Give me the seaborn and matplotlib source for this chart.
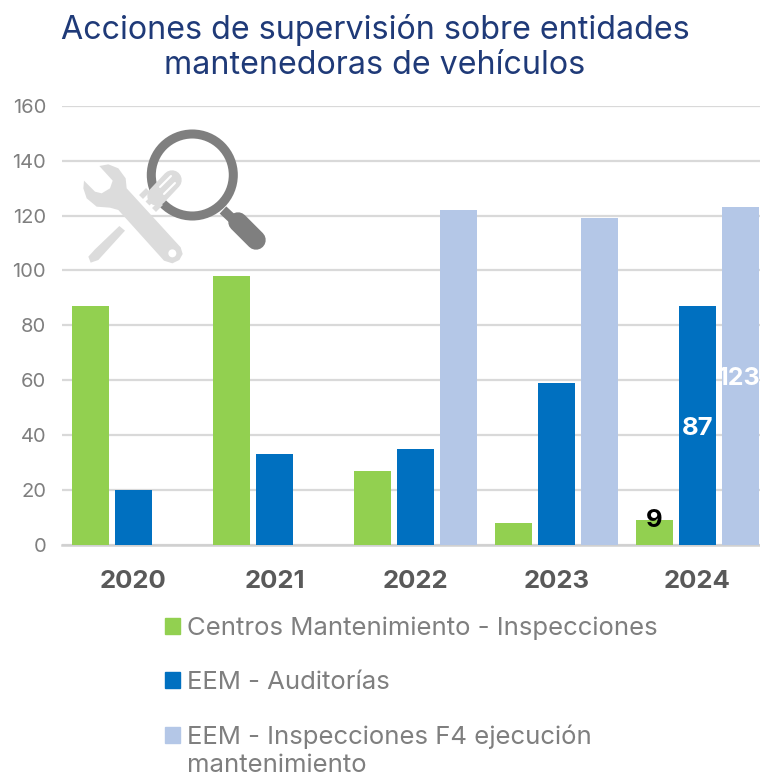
import matplotlib
matplotlib.use("Agg")
import matplotlib.pyplot as plt
import seaborn as sns
import pandas as pd
import numpy as np
from matplotlib.patches import Circle, Polygon, Rectangle
from matplotlib.lines import Line2D

years = ["2020", "2021", "2022", "2023", "2024"]
centros = [87, 98, 27, 8, 9]
auditorias = [20, 33, 35, 59, 87]
inspecciones = [np.nan, np.nan, 122, 119, 123]
series_names = ["Centros Mantenimiento - Inspecciones", "EEM - Auditorías",
                "EEM - Inspecciones F4 ejecución\nmantenimiento"]
colors = ["#92d050", "#0070c0", "#b4c7e7"]
title = "Acciones de supervisión sobre entidades\nmantenedoras de vehículos"

sns.set_theme(style="white")
plt.rcParams["font.family"] = ["Inter", "DejaVu Sans"]

W, H = 760, 776
fig = plt.figure(figsize=(W / 100, H / 100), dpi=100)
top_px, bot_px, left_px = 106, 544.5, 62
ax = fig.add_axes([left_px / W, 1 - bot_px / H, (W - left_px) / W, (bot_px - top_px) / H])

df = pd.DataFrame({"year": years * 3,
                   "value": centros + auditorias + inspecciones,
                   "serie": sum([[s] * 5 for s in series_names], [])})
sns.barplot(data=df, x="year", y="value", hue="serie", palette=colors, ax=ax,
            width=0.915, gap=0.14, saturation=1, legend=False, zorder=3, linewidth=0)

ax.set_xlim(-0.507, 4.443)
ax.set_ylim(0, 160)
ax.set_yticks(range(0, 161, 20))
ax.set_xlabel("")
ax.set_ylabel("")
ax.grid(axis="y", color="#d9d9d9", lw=1.6, zorder=0)
ax.set_axisbelow(True)
for s in ["top", "right", "left"]:
    ax.spines[s].set_visible(False)
ax.spines["bottom"].set_color("#d0d0d0")
ax.spines["bottom"].set_linewidth(1.8)
ax.tick_params(axis="y", length=0, labelsize=14.5, labelcolor="#7f7f7f", pad=11.5)
ax.tick_params(axis="x", length=0, labelsize=18.5, labelcolor="#595959", pad=18)
for t in ax.get_xticklabels():
    t.set_fontweight("bold")

# data labels on the 2024 group only
c1, c2, c3 = ax.containers
ax.bar_label(c1, labels=["", "", "", "", "9"], label_type="edge", padding=-9, color="black",
             fontsize=18.5, fontweight="bold", zorder=6)
for cont, last, dx, fs in [(c2, "87", 0, 18.5), (c3, "123", -0.8, 18)]:
    anns = ax.bar_label(cont, labels=[""] * (len(cont) - 1) + [last], label_type="center",
                        color="white", fontsize=fs, fontweight="bold", zorder=6)
    for a in anns:
        a.xyann = (dx, -2)

fig.text(375 / W, 1 - 30 / H, title.split("\n")[0], ha="center", va="center",
         fontsize=23.2, color="#1f3a78")
fig.text(375 / W, 1 - 66 / H, title.split("\n")[1], ha="center", va="center",
         fontsize=23.2, color="#1f3a78")

# legend
handles = [Rectangle((0, 0), 1, 1, color=c) for c in colors]
leg = fig.legend(handles, series_names, loc="upper left",
                 bbox_to_anchor=(165 / W, 1 - 616.5 / H), frameon=False,
                 fontsize=18.5, labelcolor="#7f7f7f", handlelength=0.58, handleheight=0.58,
                 handletextpad=0.27, labelspacing=1.2, borderpad=0, borderaxespad=0)
leg.get_texts()[2].set_linespacing(1.25)
leg.legend_handles[2].set_y(12)

# decorative icons, overlay in pixel coordinates
ov = fig.add_axes([0, 0, 1, 1], zorder=5)
ov.set_xlim(0, W)
ov.set_ylim(H, 0)
ov.axis("off")
ov.patch.set_alpha(0)
wg = "#dcdcdc"


def px(points):
    return [(60 + x / 3, 110 + y / 3) for x, y in points]


wrench_outline = [(118, 168), (145, 163), (175, 175), (197, 205), (200, 235), (362, 412),
                  (368, 432), (358, 450), (337, 460), (312, 452), (175, 300), (150, 293),
                  (110, 290), (80, 265), (70, 235), (72, 212), (105, 245), (125, 250),
                  (150, 235), (158, 212)]
ov.add_patch(Polygon(px(wrench_outline), color=wg, lw=0))
ov.add_patch(Circle((60 + 337 / 3, 110 + 430 / 3), 4, color="white", lw=0))
driver_outline = [(195, 362), (178, 348), (105, 418), (85, 440), (92, 458), (115, 450)]
ov.add_patch(Polygon(px(driver_outline), color=wg, lw=0))
ov.add_line(Line2D([172, 157], [180, 196], color=wg, lw=14, solid_capstyle="round"))
for d in [0, 6.5, 13]:
    ov.add_line(Line2D([148 + d, 141 + d], [190 + d, 197 + d], color=wg, lw=4, solid_capstyle="butt"))
ov.add_line(Line2D([171, 160], [176, 187], color="white", lw=1.5))
ov.add_line(Line2D([175, 164], [183, 194], color="white", lw=1.5))
# magnifier
ov.add_patch(Circle((192.3, 175), 41, facecolor="none", edgecolor="#7f7f7f", lw=6.5))
ov.add_line(Line2D([223, 238], [210, 224], color="#7f7f7f", lw=7, solid_capstyle="butt"))
ov.add_line(Line2D([238, 256], [222, 240], color="#7f7f7f", lw=14, solid_capstyle="round"))

fig.savefig("out.png", dpi=100)
